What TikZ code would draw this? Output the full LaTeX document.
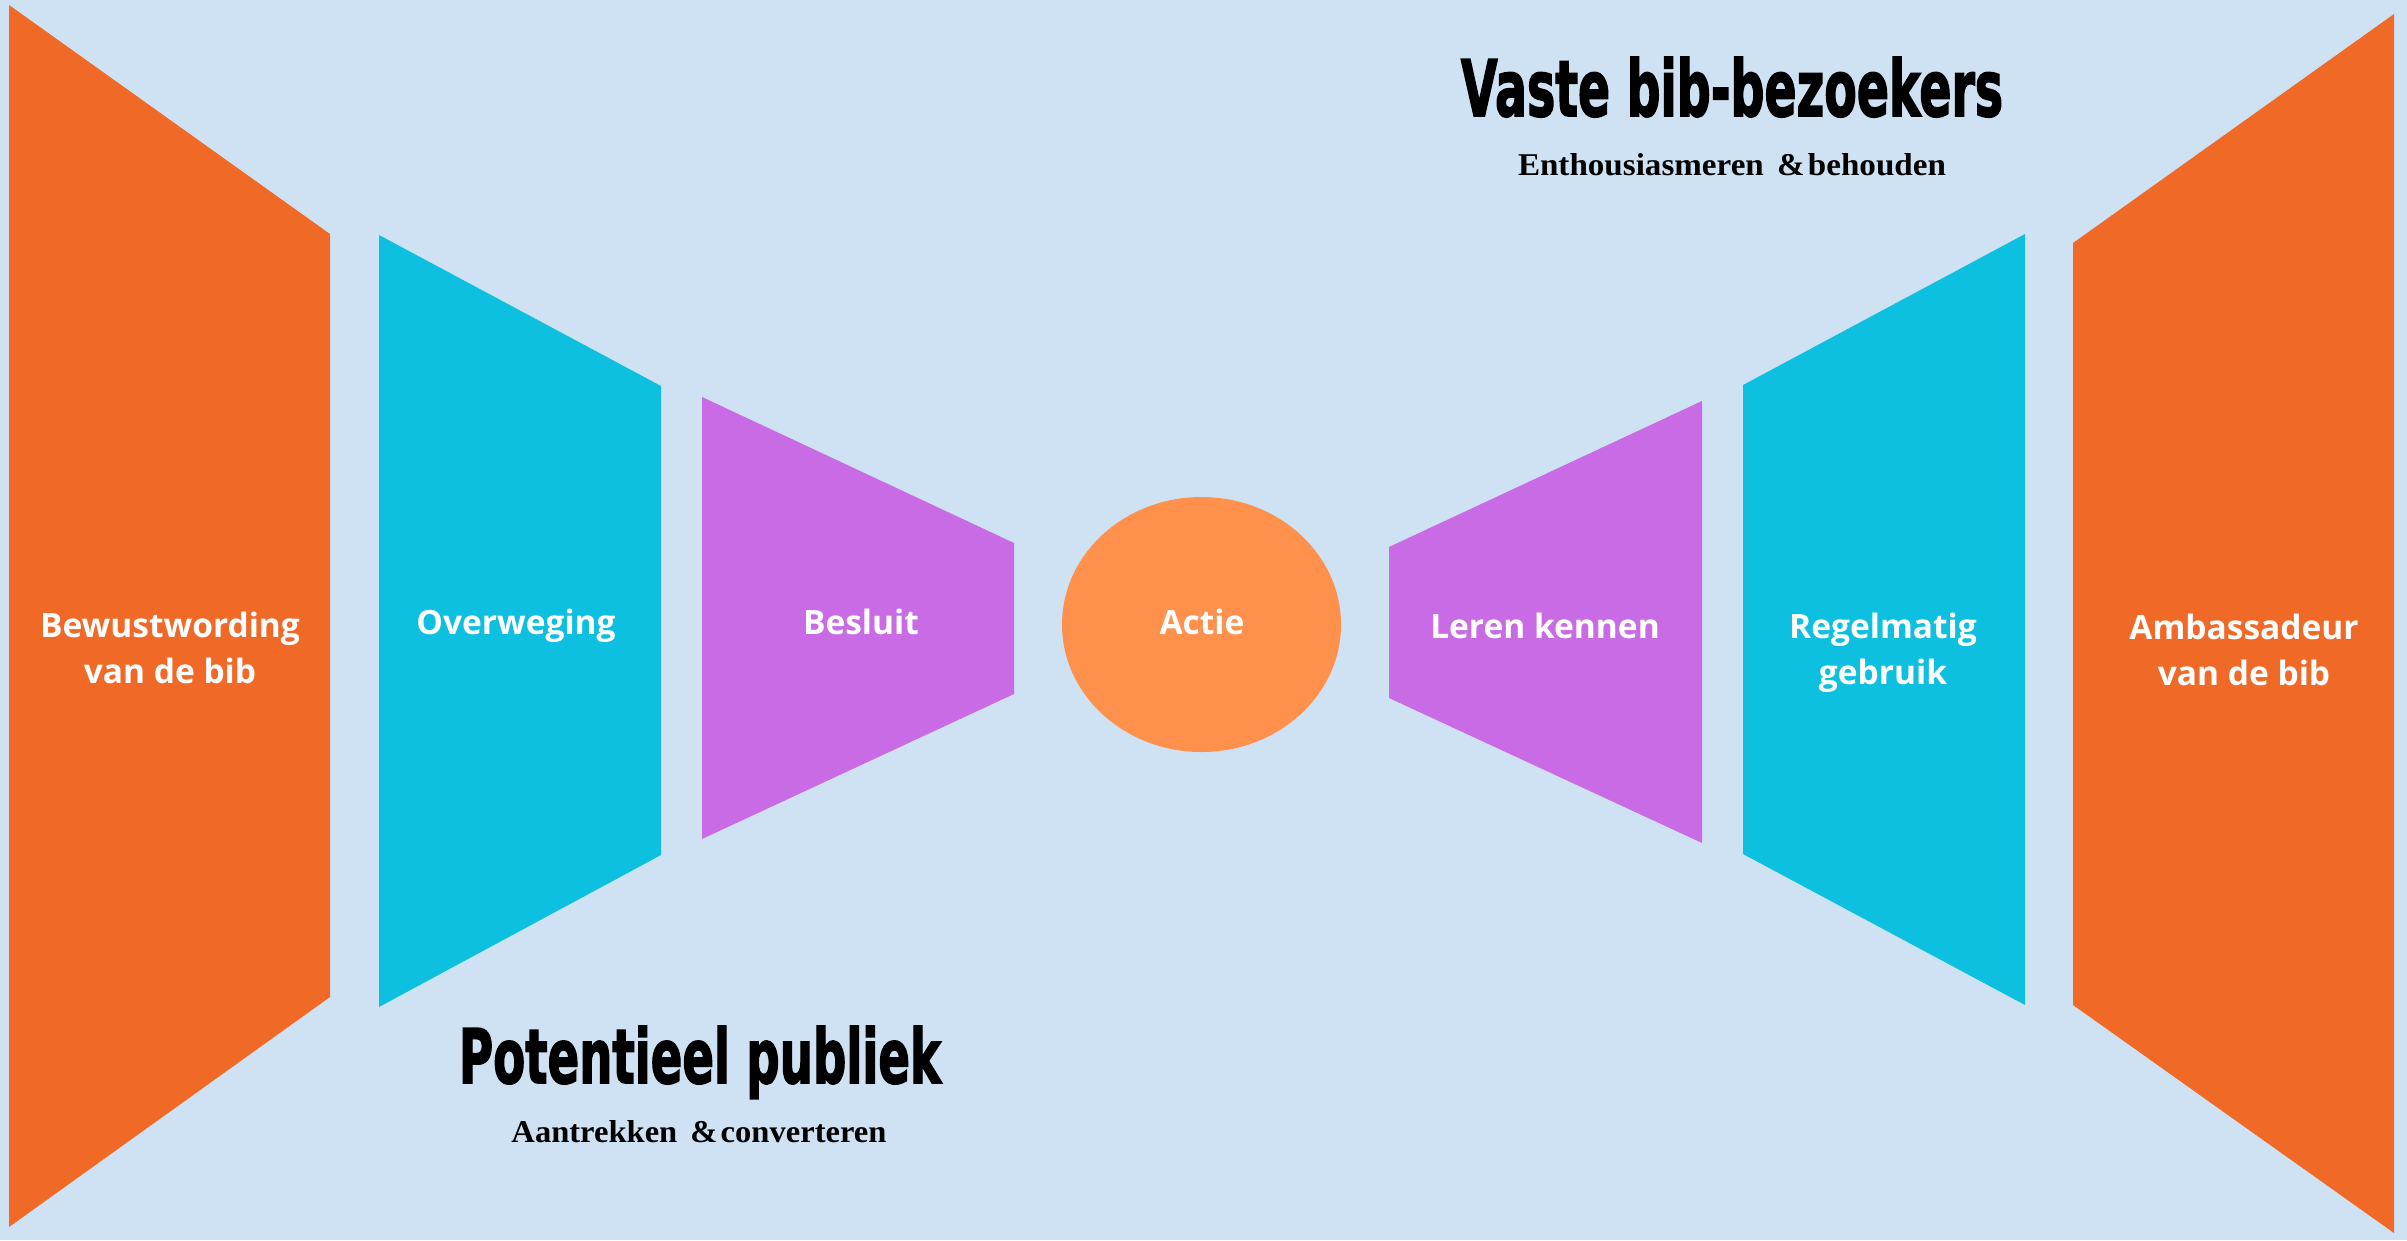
\documentclass[tikz,border=0pt]{standalone}
\usepackage{fontspec}
\usepackage{graphicx}
\usetikzlibrary{shapes.geometric}
\newfontfamily\labfont{Open Sans}
\newfontfamily\headfont{DejaVu Sans}[BoldFeatures={FakeBold=2.5}]
\newfontfamily\subfont{Liberation Serif}
\definecolor{bgc}{HTML}{CFE2F3}
\definecolor{orangec}{HTML}{F06927}
\definecolor{cyanc}{HTML}{0DC0E0}
\definecolor{purplec}{HTML}{C96BE4}
\definecolor{actc}{HTML}{FF914D}
\tikzset{
  lab/.style={text=white, font=\labfont\bfseries\fontsize{33.5}{46}\selectfont, align=center, anchor=base, inner sep=0pt},
  head/.style={text=black, anchor=base, inner sep=0pt},
}
\begin{document}
\begin{tikzpicture}[x=1pt,y=-1pt]
\fill[bgc] (0,0) rectangle (2407,1240);
\useasboundingbox (0,0) rectangle (2407,1240);
% left side
\fill[orangec] (9,5) -- (330,234) -- (330,997) -- (9,1227) -- cycle;
\fill[cyanc] (379,235) -- (661,386) -- (661,855) -- (379,1007) -- cycle;
\fill[purplec] (702,397) -- (1014,543) -- (1014,694) -- (702,839) -- cycle;
% center
\node[ellipse, fill=actc, minimum width=279pt, minimum height=255pt, inner sep=0pt] (actie) at (1201.5,624.5) {};
% right side
\fill[purplec] (1389,547) -- (1702,401) -- (1702,843) -- (1389,698) -- cycle;
\fill[cyanc] (1743,385) -- (2025,234) -- (2025,1005) -- (1743,854) -- cycle;
\fill[orangec] (2073,243) -- (2394,14) -- (2394,1233) -- (2073,1005) -- cycle;
% labels
\node[lab] (bew) at (170,683) {Bewustwording\\van de bib};
\node[lab] (ovw) at (516,634) {Overweging};
\node[lab] (bes) at (861,634) {Besluit};
\node[lab] (act) at (1202,634) {Actie};
\node[lab] (ler) at (1545,638) {Leren kennen};
\node[lab] (reg) at (1883,684) {Regelmatig\\gebruik};
\node[lab] (amb) at (2244,685) {Ambassadeur\\van de bib};
% titles
\node[head] (vaste) at (1732,116) {\resizebox{542pt}{59pt}{\headfont\bfseries Vaste bib-bezoekers}};
\node[head] (enth) at (1732,175) {\resizebox{428pt}{22pt}{\subfont\bfseries Enthousiasmeren\hspace{0.4em}\&\hspace{0.1em}behouden}};
\node[head] (pot) at (700,1083) {\resizebox{482pt}{57pt}{\headfont\bfseries Potentieel publiek}};
\node[head] (aan) at (699,1142) {\resizebox{375pt}{22pt}{\subfont\bfseries Aantrekken\hspace{0.4em}\&\hspace{0.1em}converteren}};
\end{tikzpicture}
\end{document}
